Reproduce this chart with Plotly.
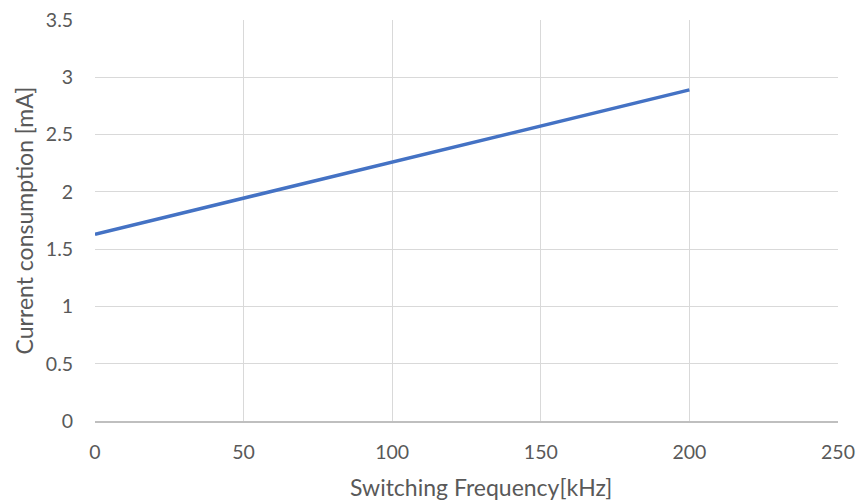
import plotly.graph_objects as go

freq_khz = [0, 50, 100, 150, 200]
current_ma = [1.63, 1.945, 2.26, 2.575, 2.89]

fig = go.Figure()
fig.add_trace(go.Scatter(x=freq_khz, y=current_ma, mode="lines",
                         line=dict(color="#4472C4", width=3.5), showlegend=False))

fig.update_layout(
    width=857, height=501,
    margin=dict(l=95, r=19, t=20, b=80, autoexpand=False),
    paper_bgcolor="white", plot_bgcolor="white",
    font=dict(family="Lato, Open Sans, sans-serif", size=19.5, color="#595959"),
)
fig.add_annotation(text="Switching Frequency[kHz]", xref="paper", yref="paper",
                   x=0.5195, y=-0.165, xanchor="center", yanchor="middle",
                   showarrow=False, font=dict(size=23, color="#595959"))
fig.update_xaxes(range=[0, 250], tickvals=[0, 50, 100, 150, 200, 250],
                 showgrid=True, gridcolor="#d9d9d9", gridwidth=1,
                 showline=True, linecolor="#bfbfbf", linewidth=1.5,
                 zeroline=False, ticks="outside", ticklen=13, tickcolor="rgba(0,0,0,0)",
                 automargin=False, ticklabeloverflow="allow",
                 tickfont=dict(size=19.5, color="#595959"))
fig.update_yaxes(range=[0, 3.5], tickvals=[0, 0.5, 1, 1.5, 2, 2.5, 3, 3.5],
                 ticktext=["0", "0.5", "1", "1.5", "2", "2.5", "3", "3.5"],
                 showgrid=True, gridcolor="#d9d9d9", gridwidth=1,
                 zeroline=False, showline=False,
                 ticks="outside", ticklen=17, tickcolor="rgba(0,0,0,0)",
                 automargin=False, ticklabeloverflow="allow",
                 title=dict(text="Current consumption [mA]", font=dict(size=23, color="#595959"), standoff=5),
                 tickfont=dict(size=19.5, color="#595959"))

fig.write_html("out.html", config={"displayModeBar": False},
               post_script="document.body.style.margin='0';")
